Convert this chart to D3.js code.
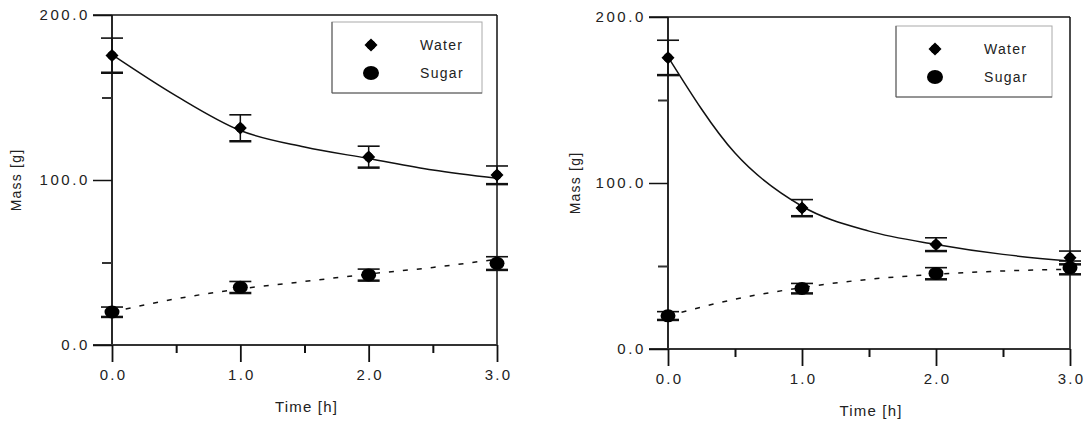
<!DOCTYPE html>
<html>
<head>
<meta charset="utf-8">
<script src="https://cdn.jsdelivr.net/npm/d3@7"></script>
<style>
  body { margin: 0; background: #fff; }
  svg text { font-family: "Liberation Sans", Arial, sans-serif; fill: #222; }
</style>
</head>
<body>
<div id="chart"></div>
<script>
// --- data ---
const times = [0, 1, 2, 3];
const fitTimes = [0, 0.5, 1, 1.5, 2, 2.5, 3];
const yTicks = [0, 100, 200];
const yMinor = [50, 150];
const xTicks = [0, 1, 2, 3];
const xMinor = [0.5, 1.5, 2.5];
const seriesNames = ['Water', 'Sugar'];

// left panel
const waterA = [175.5, 131.5, 114, 103];
const waterErrA = [10.5, 8, 6.5, 5.5];
const sugarA = [20, 35, 42.5, 49.5];
const sugarErrA = [3, 3.5, 3.5, 4];
const waterFitA = [176, 151, 130, 120, 113, 106, 101];
const sugarFitA = [20, 28, 34, 38.5, 43, 47, 52];

// right panel
const waterB = [175.5, 85, 63, 55];
const waterErrB = [10.5, 5, 4, 4];
const sugarB = [20, 36.5, 45.5, 49];
const sugarErrB = [2.5, 3, 3.5, 4];
const waterFitB = [176, 118, 86, 71, 63, 57, 53];
const sugarFitB = [20, 30, 37, 42, 45, 47, 48];

const width = 1090, height = 423;
const svg = d3.select('#chart').append('svg')
    .attr('width', width).attr('height', height);

// water marker: round blob with diamond points
const waterMark = 'M0,-6.5L6.5,0L0,6.5L-6.5,0Z';

function drawPanel(cfg) {
    const x = d3.scaleLinear([0, 3], [cfg.left, cfg.right]);
    const y = d3.scaleLinear([0, 200], [cfg.bottom, cfg.top]);
    const g = svg.append('g');

    // frame: top and right
    g.append('line')
        .attr('x1', x(0) - 19).attr('x2', x(3))
        .attr('y1', y(200)).attr('y2', y(200))
        .attr('stroke', '#111').attr('stroke-width', 1.5);
    g.append('line')
        .attr('x1', x(3)).attr('x2', x(3))
        .attr('y1', y(200)).attr('y2', y(0))
        .attr('stroke', '#111').attr('stroke-width', 1.5);

    // axes lines
    g.append('line')
        .attr('x1', x(0)).attr('x2', x(0))
        .attr('y1', y(200)).attr('y2', y(0))
        .attr('stroke', '#111').attr('stroke-width', 1.8);
    g.append('line')
        .attr('x1', x(0) - 19).attr('x2', x(3))
        .attr('y1', y(0)).attr('y2', y(0))
        .attr('stroke', '#333').attr('stroke-width', 2.2);

    // y axis
    const yAx = g.append('g').attr('transform', `translate(${x(0)},0)`)
        .call(d3.axisLeft(y).tickValues(yTicks).tickSize(19)
            .tickPadding(3).tickFormat(d3.format('.1f')));
    yAx.select('.domain').remove();
    yAx.selectAll('line').attr('stroke', '#111').attr('stroke-width', 1.5);
    yAx.selectAll('text').attr('font-size', 15).style('font-family', null)
        .attr('letter-spacing', 2.6);
    const yMin = g.append('g').attr('transform', `translate(${x(0)},0)`)
        .call(d3.axisLeft(y).tickValues(yMinor).tickSize(10).tickFormat(''));
    yMin.select('.domain').remove();
    yMin.selectAll('line').attr('stroke', '#333').attr('stroke-width', 2);

    // x axis
    const xAx = g.append('g').attr('transform', `translate(0,${y(0)})`)
        .call(d3.axisBottom(x).tickValues(xTicks).tickSize(17)
            .tickPadding(7).tickFormat(d3.format('.1f')));
    xAx.select('.domain').remove();
    xAx.selectAll('line').attr('stroke', '#111').attr('stroke-width', 1.8);
    xAx.selectAll('text').attr('font-size', 15).style('font-family', null)
        .attr('letter-spacing', 2.2).attr('dx', 1);
    const xMin = g.append('g').attr('transform', `translate(0,${y(0)})`)
        .call(d3.axisBottom(x).tickValues(xMinor).tickSize(8).tickFormat(''));
    xMin.select('.domain').remove();
    xMin.selectAll('line').attr('stroke', '#111').attr('stroke-width', 2);

    // axis labels
    g.append('text')
        .attr('x', (x(0) + x(3)) / 2 + 2).attr('y', cfg.bottom + 67)
        .attr('text-anchor', 'middle').attr('font-size', 15)
        .attr('letter-spacing', 1.2)
        .text('Time [h]');
    g.append('text')
        .attr('transform', `translate(${cfg.labelX},${y(100)})rotate(-90)`)
        .attr('text-anchor', 'middle').attr('font-size', 14)
        .attr('letter-spacing', 1.2)
        .text('Mass [g]');

    // fitted curves
    const line = d3.line()
        .x((d, i) => x(fitTimes[i])).y(d => y(d))
        .curve(d3.curveMonotoneX);
    g.append('path').attr('d', line(cfg.waterFit))
        .attr('fill', 'none').attr('stroke', '#111').attr('stroke-width', 1.5);
    g.append('path').attr('d', line(cfg.sugarFit))
        .attr('fill', 'none').attr('stroke', '#111').attr('stroke-width', 1.5)
        .attr('stroke-dasharray', '5,9');

    // error bars
    const drawErr = (vals, errs) => {
        const eb = g.append('g');
        times.forEach((t, i) => {
            const cx = x(t), hi = y(vals[i] + errs[i]), lo = y(vals[i] - errs[i]);
            eb.append('line').attr('x1', cx).attr('x2', cx)
                .attr('y1', hi).attr('y2', lo)
                .attr('stroke', '#111').attr('stroke-width', 1.5);
            [hi, lo].forEach((yy, k) => {
                eb.append('line').attr('x1', cx - 11).attr('x2', cx + 11)
                    .attr('y1', yy).attr('y2', yy)
                    .attr('stroke', '#111').attr('stroke-width', k ? 2.5 : 1.6);
            });
        });
    };
    drawErr(cfg.water, cfg.waterErr);
    drawErr(cfg.sugar, cfg.sugarErr);

    // markers
    g.selectAll('.wpt').data(cfg.water).join('g').attr('class', 'wpt')
        .attr('transform', (d, i) => `translate(${x(times[i])},${y(d)})`)
        .call(s => {
            s.append('path').attr('d', waterMark).attr('fill', '#000');
            s.append('circle').attr('r', 4.6).attr('fill', '#000');
        });
    g.selectAll('.spt').data(cfg.sugar).join('ellipse').attr('class', 'spt')
        .attr('cx', (d, i) => x(times[i])).attr('cy', d => y(d))
        .attr('rx', 7.5).attr('ry', 6.5).attr('fill', '#000');

    // legend
    const lg = g.append('g').attr('transform', `translate(${cfg.legX},${cfg.legY})`);
    lg.append('rect').attr('width', cfg.legW).attr('height', 71)
        .attr('fill', '#fff').attr('stroke', '#aaa').attr('stroke-width', 1);
    lg.append('line').attr('x1', 0).attr('x2', 0).attr('y1', 0).attr('y2', 71)
        .attr('stroke', '#555');
    lg.append('line').attr('x1', 0).attr('x2', cfg.legW).attr('y1', 71).attr('y2', 71)
        .attr('stroke', '#555');
    seriesNames.forEach((name, i) => {
        const ly = 23 + i * 28;
        if (i === 0) {
            lg.append('path').attr('d', waterMark)
                .attr('transform', `translate(39,${ly})`).attr('fill', '#000');
            lg.append('circle').attr('cx', 39).attr('cy', ly).attr('r', 4.6).attr('fill', '#000');
        } else {
            lg.append('ellipse').attr('cx', 39).attr('cy', ly)
                .attr('rx', 8).attr('ry', 7).attr('fill', '#000');
        }
        lg.append('text').attr('x', 88).attr('y', ly + 5)
            .attr('font-size', 14).attr('letter-spacing', 1.3).text(name);
    });
}

drawPanel({
    left: 112, right: 497, top: 15, bottom: 345, labelX: 21,
    water: waterA, waterErr: waterErrA, sugar: sugarA, sugarErr: sugarErrA,
    waterFit: waterFitA, sugarFit: sugarFitA, legX: 332, legY: 22, legW: 150
});
drawPanel({
    left: 668, right: 1070, top: 17, bottom: 349, labelX: 580,
    water: waterB, waterErr: waterErrB, sugar: sugarB, sugarErr: sugarErrB,
    waterFit: waterFitB, sugarFit: sugarFitB, legX: 896, legY: 26, legW: 156
});
</script>
</body>
</html>
